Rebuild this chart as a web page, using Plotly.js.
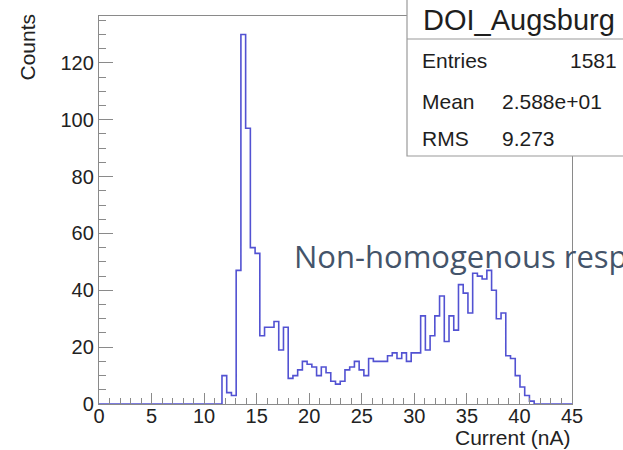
<!DOCTYPE html>
<html><head><meta charset="utf-8">
<script src="https://cdn.plot.ly/plotly-3.0.1.min.js"></script>
<style>html,body{margin:0;padding:0;background:#fff;} #chart{width:623px;height:450px;}</style>
</head><body><div id="chart"></div>
<script>
// ---- data ----
const histName = "DOI_Augsburg";
const xAxisTitle = "Current (nA)";
const yAxisTitle = "Counts";
const overlayText = "Non-homogenous response";
const xMin = 0, xMax = 45, nBins = 100;
const binCounts = [
  0,0,0,0,0,0,0,0,0,0,
  0,0,0,0,0,0,0,0,0,0,
  0,0,0,0,0,0,10,4,3,47,
  130,97,55,53,24,27,27,29,19,27,
  9,10,12,15,14,13,10,13,11,8,
  7,8,12,13,15,12,10,16,15,15,
  15,17,18,16,18,15,18,18,31,19,
  24,31,38,22,31,26,42,39,32,46,
  45,44,47,40,30,32,17,16,10,6,
  3,1,0,0,0,0,0,0,0,0
];
const statLabels = ["Entries", "Mean", "RMS"];
const statValues = ["1581", "2.588e+01", "9.273"];
const xTickVals = [0,5,10,15,20,25,30,35,40,45];
const yTickVals = [0,20,40,60,80,100,120];

// ---- layout geometry ----
const W = 623, H = 450;
const M = {l: 99, r: 51, t: 16, b: 46};
const pw = W - M.l - M.r, ph = H - M.t - M.b;
const px = v => (v - M.l) / pw;
const py = v => (H - M.b - v) / ph;

const binW = (xMax - xMin) / nBins;
const edges = binCounts.map((_, i) => xMin + i * binW).concat([xMax]);
const stepY = binCounts.concat([binCounts[binCounts.length - 1]]);

const axisFont = {family: "Liberation Sans, Arial, sans-serif", size: 20, color: "#222"};
const titleFont = {family: "Liberation Sans, Arial, sans-serif", size: 21, color: "#222"};
const frameColor = "#8a8a8a";

const trace = {
  type: "scatter", mode: "lines", x: edges, y: stepY,
  line: {shape: "hv", color: "#5252d2", width: 1.6},
  hoverinfo: "skip", showlegend: false
};

const statFont = {family: "Liberation Sans, Arial, sans-serif", size: 21, color: "#1e1e1e"};
const annotations = [
  {text: histName, x: px(519), y: py(20), xref: "paper", yref: "paper", xanchor: "center", yanchor: "middle", showarrow: false,
   font: {family: "Liberation Sans, Arial, sans-serif", size: 29, color: "#1e1e1e"}},
  {text: statLabels[0], x: px(420), y: py(60), xref: "paper", yref: "paper", xanchor: "left", yanchor: "middle", showarrow: false, font: statFont},
  {text: statValues[0], x: px(619), y: py(60), xref: "paper", yref: "paper", xanchor: "right", yanchor: "middle", showarrow: false, font: statFont},
  {text: statLabels[1], x: px(420), y: py(101), xref: "paper", yref: "paper", xanchor: "left", yanchor: "middle", showarrow: false, font: statFont},
  {text: statValues[1], x: px(500), y: py(101), xref: "paper", yref: "paper", xanchor: "left", yanchor: "middle", showarrow: false, font: statFont},
  {text: statLabels[2], x: px(420), y: py(138), xref: "paper", yref: "paper", xanchor: "left", yanchor: "middle", showarrow: false, font: statFont},
  {text: statValues[2], x: px(500), y: py(138), xref: "paper", yref: "paper", xanchor: "left", yanchor: "middle", showarrow: false, font: statFont},
  {text: xAxisTitle, x: px(573), y: py(438), xref: "paper", yref: "paper", xanchor: "right", yanchor: "middle", showarrow: false, font: titleFont},
  {text: yAxisTitle, x: px(27), y: py(12), xref: "paper", yref: "paper", xanchor: "center", yanchor: "top", textangle: -90, showarrow: false, font: titleFont},
  {text: overlayText, x: px(292), y: py(256), xref: "paper", yref: "paper", xanchor: "left", yanchor: "middle", showarrow: false,
   font: {family: "Open Sans, Noto Sans, sans-serif", size: 31, color: "#44546a"}}
];

const shapes = [
  {type: "rect", xref: "paper", yref: "paper", x0: px(407), x1: px(650), y0: py(156), y1: py(-3),
   fillcolor: "#ffffff", line: {color: "#9a9a9a", width: 1.2}, layer: "above"},
  {type: "line", xref: "paper", yref: "paper", x0: px(407), x1: px(650), y0: py(39), y1: py(39),
   line: {color: "#9a9a9a", width: 1.2}, layer: "above"}
];

const layout = {
  width: W, height: H, margin: M,
  paper_bgcolor: "#ffffff", plot_bgcolor: "#ffffff",
  showlegend: false,
  xaxis: {
    range: [xMin, xMax], tickmode: "array", tickvals: xTickVals, ticktext: xTickVals.map(String),
    ticks: "inside", ticklen: 11, tickwidth: 1, tickcolor: frameColor,
    minor: {ticks: "inside", ticklen: 6, dtick: 1, tick0: 0, tickcolor: frameColor, showgrid: false},
    showline: true, linecolor: frameColor, linewidth: 1.2, mirror: true,
    ticklabelstandoff: -6,
    showgrid: false, zeroline: false, tickfont: axisFont, fixedrange: true
  },
  yaxis: {
    range: [0, 136.5], tickmode: "array", tickvals: yTickVals, ticktext: yTickVals.map(String),
    ticks: "inside", ticklen: 14, tickwidth: 1, tickcolor: frameColor,
    minor: {ticks: "inside", ticklen: 7, dtick: 5, tick0: 0, tickcolor: frameColor, showgrid: false},
    showline: true, linecolor: frameColor, linewidth: 1.2, mirror: true,
    showgrid: false, zeroline: false, tickfont: axisFont, fixedrange: true
  },
  annotations: annotations,
  shapes: shapes
};

Plotly.newPlot("chart", [trace], layout, {staticPlot: true, displayModeBar: false});
</script>
</body></html>
